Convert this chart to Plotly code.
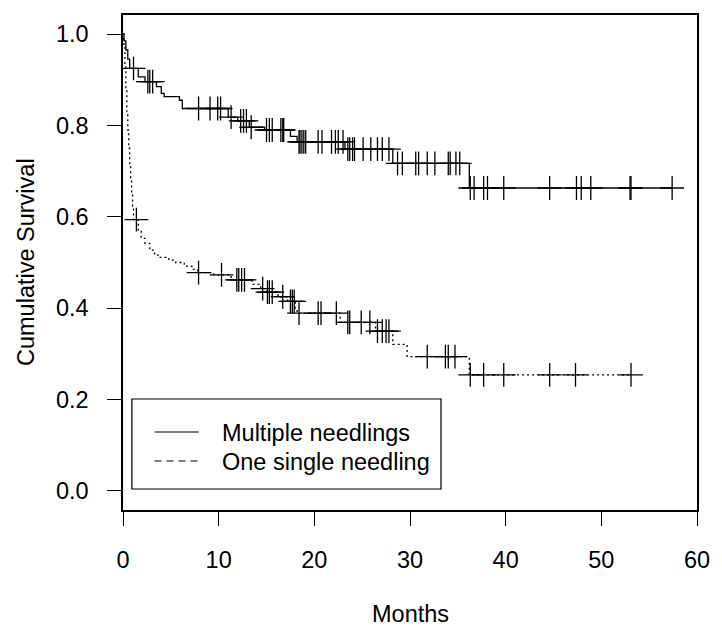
import plotly.graph_objects as go

# ---------------- data ----------------
# Multiple needlings: Kaplan-Meier step function (time in months, survival after step)
multi_step_t = [0, 0.1, 0.3, 0.5, 0.7, 1.6, 2.3, 3.5, 4.0, 4.3, 5.9, 6.2, 11.0, 12.0,
                13.2, 14.8, 17.5, 18.2, 23.2, 28.2, 36.2, 57.4]
multi_step_s = [1.0, 0.985, 0.965, 0.945, 0.925, 0.906, 0.896, 0.885, 0.870, 0.863, 0.855,
                0.837, 0.818, 0.810, 0.796, 0.790, 0.776, 0.764, 0.748, 0.717, 0.663, 0.663]
multi_cens_t = [1.1, 2.6, 2.8, 3.1, 7.9, 9.1, 9.9, 10.2, 11.3, 12.3, 12.6, 12.9, 13.4,
                15.0, 15.3, 15.6, 16.5, 16.7, 16.8, 18.4, 18.5, 18.7, 18.9, 19.1, 20.4,
                20.8, 21.8, 22.2, 22.5, 23.0, 23.5, 23.7, 24.0, 24.2, 25.1, 25.9, 26.6,
                27.1, 27.8, 28.7, 29.2, 30.6, 30.9, 31.8, 32.6, 34.0, 34.2, 34.8, 35.2,
                36.3, 36.7, 37.7, 38.1, 39.8, 44.6, 47.4, 47.9, 48.9, 53.0, 53.1, 57.4]

# One single needling
single_step_t = [0, 0.1, 0.2, 0.3, 0.4, 0.5, 0.6, 0.7, 0.8, 0.9, 1.0, 1.1, 1.6, 1.9, 2.3,
                 2.8, 3.3, 3.8, 4.8, 5.5, 6.4, 7.2, 7.8, 9.5, 11.3, 13.5, 14.4, 15.0, 16.2,
                 17.2, 18.0, 18.2, 22.7, 26.4, 28.2, 29.7, 36.2, 53.1]
single_step_s = [1.0, 0.97, 0.93, 0.88, 0.83, 0.79, 0.75, 0.71, 0.68, 0.65, 0.62, 0.594,
                 0.571, 0.553, 0.542, 0.527, 0.516, 0.511, 0.505, 0.500, 0.492, 0.485,
                 0.478, 0.473, 0.462, 0.452, 0.443, 0.435, 0.425, 0.415, 0.400, 0.389,
                 0.369, 0.350, 0.321, 0.294, 0.254, 0.254]
single_cens_t = [1.4, 7.9, 10.3, 11.9, 12.1, 12.4, 12.7, 14.6, 15.1, 15.3, 15.6, 16.7,
                 17.5, 17.7, 17.9, 18.4, 20.4, 20.7, 22.3, 23.5, 23.7, 24.9, 25.8, 26.6,
                 27.1, 27.5, 27.8, 31.8, 33.7, 34.0, 34.7, 36.3, 37.7, 39.8, 44.6, 47.3, 53.1]

group_names = ["Multiple needlings", "One single needling"]
x_ticks = [0, 10, 20, 30, 40, 50, 60]
y_ticks = [0.0, 0.2, 0.4, 0.6, 0.8, 1.0]
x_title = "Months"
y_title = "Cumulative Survival"

# ---------------- layout geometry (pixels) ----------------
W, H = 722, 628
ML, MR, MT, MB = 123, 16, 15, 118
PW, PH = W - ML - MR, H - MT - MB
FS = 23.5


def px_x(px):
    return (px - ML) / PW


def px_y(py):
    return (H - MB - py) / PH


def surv_at(t, st, ss):
    val = ss[0]
    for ti, si in zip(st, ss):
        if ti <= t:
            val = si
    return val


FONT = "Liberation Sans, Arial, Helvetica, sans-serif"
fig = go.Figure()

groups = [
    (group_names[0], multi_step_t, multi_step_s, multi_cens_t, "solid"),
    (group_names[1], single_step_t, single_step_s, single_cens_t, "2px,3px"),
]
for name, st, ss, ct, dash in groups:
    fig.add_trace(go.Scatter(x=st, y=ss, mode="lines", line_shape="hv", name=name,
                             line=dict(color="black", width=1.3, dash=dash),
                             showlegend=False, hoverinfo="skip"))
    fig.add_trace(go.Scatter(x=ct, y=[surv_at(t, st, ss) for t in ct], mode="markers",
                             name=name + " (censored)",
                             marker=dict(symbol="cross-thin", size=17,
                                         line=dict(color="black", width=1.3)),
                             showlegend=False, hoverinfo="skip"))

# ---------------- legend (box, key lines, labels) ----------------
leg_dashes = ["solid", "7px,5px"]
leg_rows = [432, 461]
shapes = [dict(type="rect", xref="paper", yref="paper",
               x0=px_x(132), x1=px_x(446), y0=px_y(489), y1=px_y(399),
               line=dict(color="black", width=1.2), fillcolor="white", layer="above")]
annotations = []
for name, dash, row in zip(group_names, leg_dashes, leg_rows):
    shapes.append(dict(type="line", xref="paper", yref="paper",
                       x0=px_x(155), x1=px_x(200), y0=px_y(row), y1=px_y(row),
                       line=dict(color="black", width=1.2, dash=dash), layer="above"))
    annotations.append(dict(text=name, xref="paper", yref="paper", x=px_x(222),
                            y=px_y(row + 1), xanchor="left", yanchor="middle",
                            showarrow=False, font=dict(size=FS)))

annotations += [
    dict(text=x_title, xref="paper", yref="paper", x=0.5, y=px_y(614),
         xanchor="center", yanchor="middle", showarrow=False, font=dict(size=FS)),
    dict(text=y_title, xref="paper", yref="paper", x=px_x(24), y=0.5,
         xanchor="center", yanchor="middle", textangle=-90, showarrow=False,
         font=dict(size=FS)),
]

fig.update_layout(
    width=W, height=H,
    margin=dict(l=ML, r=MR, t=MT, b=MB),
    paper_bgcolor="white", plot_bgcolor="white",
    font=dict(family=FONT, size=FS, color="black"),
    showlegend=False,
    xaxis=dict(range=[0, 60], tickvals=x_ticks, ticks="outside", ticklen=14,
               tickwidth=1.3, tickcolor="black", showline=True, linecolor="black",
               linewidth=1.5, mirror=True, showgrid=False, zeroline=False,
               ticklabelstandoff=14),
    yaxis=dict(range=[-0.0416, 1.0416], tickvals=y_ticks, tickformat=".1f",
               ticks="outside", ticklen=14, tickwidth=1.3, tickcolor="black",
               showline=True, linecolor="black", linewidth=1.5, mirror=True,
               showgrid=False, zeroline=False, ticklabelstandoff=14),
    shapes=shapes,
    annotations=annotations,
)

fig.write_html("out.html")
